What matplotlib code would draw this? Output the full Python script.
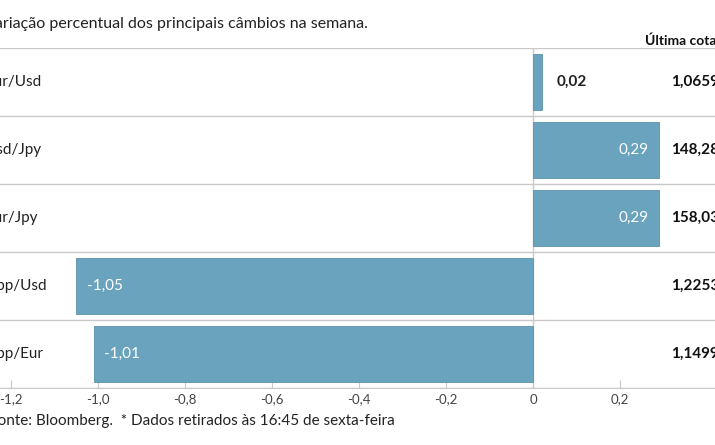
import matplotlib.pyplot as plt

plt.rcParams['font.family'] = 'Lato'

pairs = ['Eur/Usd', 'Usd/Jpy', 'Eur/Jpy', 'Gbp/Usd', 'Gbp/Eur']
changes = [0.02, 0.29, 0.29, -1.05, -1.01]
quotes = ['1,0659', '148,28', '158,03', '1,2253', '1,1499']
ticks = [-1.2, -1.0, -0.8, -0.6, -0.4, -0.2, 0, 0.2]
tick_labels = ['-1,2', '-1,0', '-0,8', '-0,6', '-0,4', '-0,2', '0', '0,2']

bar_col = '#6aa3bd'
line_col = '#c8c8c8'

fig = plt.figure(figsize=(7.15, 4.45), dpi=100)
ax = fig.add_axes([0, 0.128, 1, 0.764])
xmin, xmax = -1.225, 0.418
ax.set_xlim(xmin, xmax)
n = len(pairs)
ax.set_ylim(n - 0.5, -0.5)

ys = range(n)
ax.barh(ys, changes, height=0.82, color=bar_col, edgecolor='#5a93ad', linewidth=0.6, zorder=2)
for i in range(n + 1):
    ax.axhline(i - 0.5, color=line_col, lw=1, zorder=1)
ax.axvline(0, color=line_col, lw=1, zorder=1)

for y, p, c, q in zip(ys, pairs, changes, quotes):
    lab = f'{c:.2f}'.replace('.', ',')
    ax.text(-1.258, y, p, ha='left', va='center', fontsize=11, color='#222222')
    if abs(c) < 0.1:
        ax.text(c + 0.035, y, lab, ha='left', va='center', fontsize=11, fontweight='bold', color='#222222')
    elif c > 0:
        ax.text(c - 0.025, y, lab, ha='right', va='center', fontsize=11, color='white')
    else:
        ax.text(c + 0.025, y, lab, ha='left', va='center', fontsize=11, color='white')
    ax.text(0.318, y, q, ha='left', va='center', fontsize=11, fontweight='bold', color='#111111')

ax.set_xticks(ticks)
ax.set_xticklabels(tick_labels, fontsize=9.5, color='#444444')
ax.tick_params(axis='x', direction='in', length=6, color=line_col, pad=4)
ax.set_yticks([])
for s in ['top', 'left', 'right']:
    ax.spines[s].set_visible(False)
ax.spines['bottom'].set_color(line_col)

fig.text(-0.022, 0.945, 'Variação percentual dos principais câmbios na semana.', fontsize=11.5,
         color='#222222', va='center')
fig.text(0.902, 0.91, 'Última cotação*', fontsize=10, fontweight='bold', color='#111111', va='center')
fig.text(-0.015, 0.055, 'Fonte: Bloomberg.  * Dados retirados às 16:45 de sexta-feira', fontsize=11,
         color='#222222', va='center')

fig.savefig('out.png', dpi=100)
